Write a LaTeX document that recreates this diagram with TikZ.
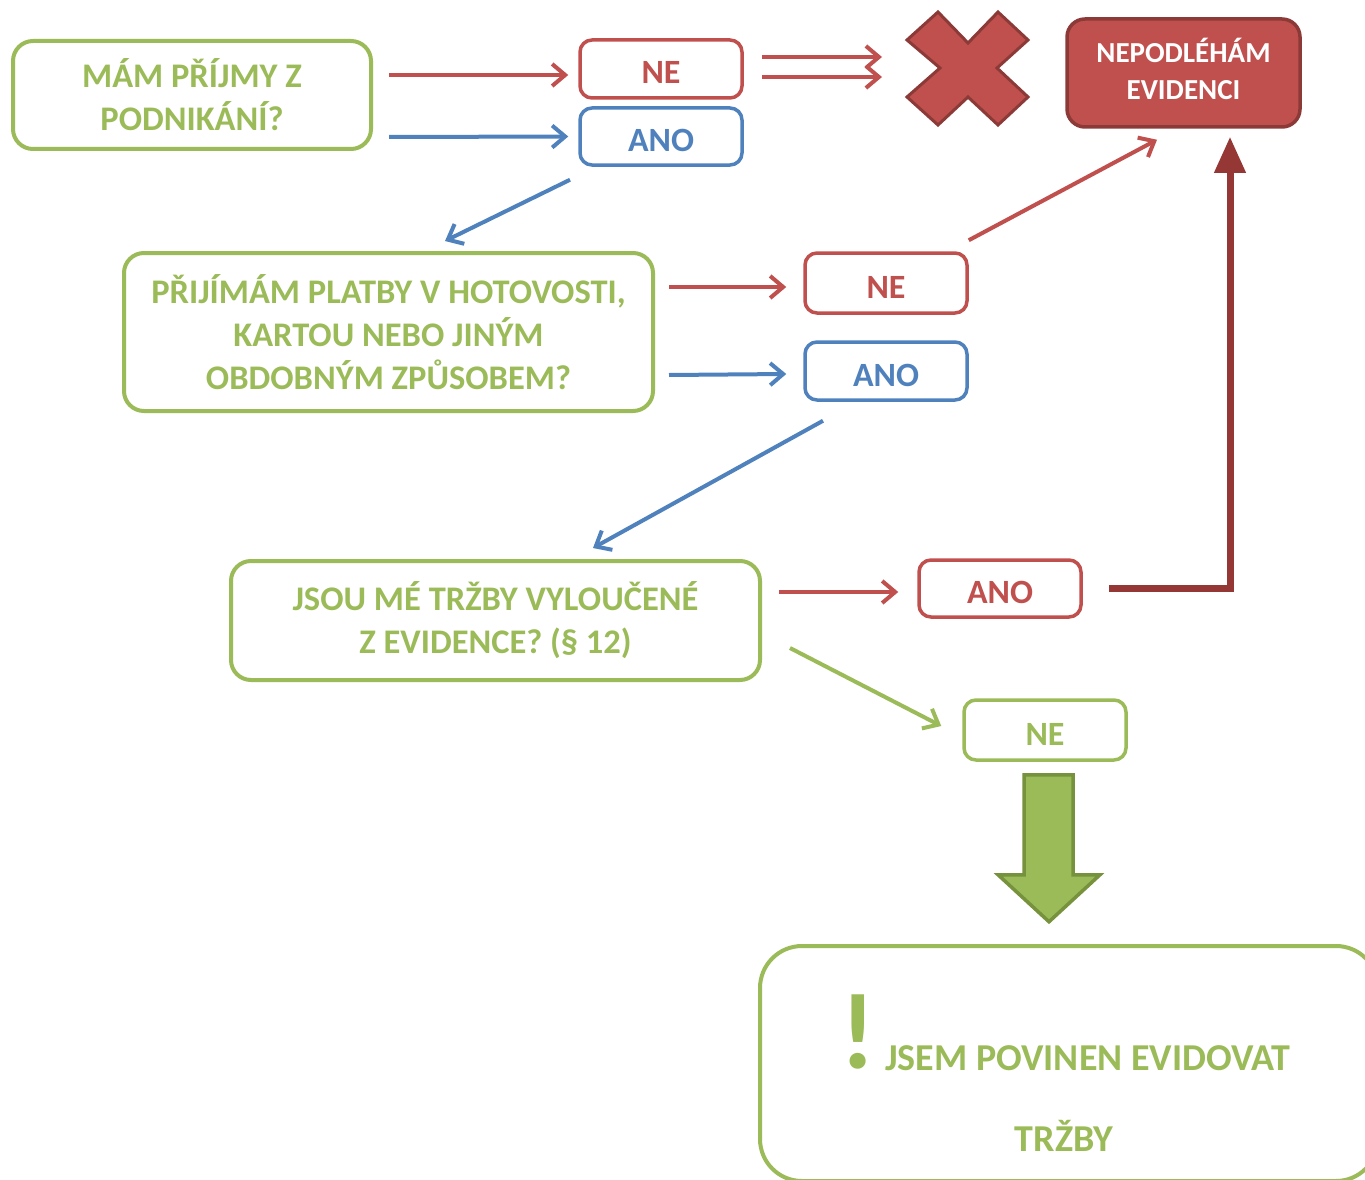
\documentclass[tikz,border=0pt]{standalone}
\usepackage{fontspec}
\setmainfont{Carlito}
\usetikzlibrary{arrows.meta}
\definecolor{cred}{HTML}{C0504D}
\definecolor{cdred}{HTML}{953735}
\definecolor{cxred}{HTML}{8C3A38}
\definecolor{cblue}{HTML}{4F81BD}
\definecolor{cgreen}{HTML}{9BBB59}
\definecolor{cdgreen}{HTML}{76923C}
\tikzset{
  qbox/.style={draw=cgreen, line width=4, rounded corners=20, text=cgreen, align=center,
    font=\fontsize{34.5}{43}\selectfont\bfseries, inner sep=0},
  sbox/.style={line width=3.5, rounded corners=12, minimum width=162, minimum height=58,
    font=\fontsize{34}{38}\selectfont\bfseries, inner sep=0, text height=30, text depth=0},
  redbox/.style={sbox, draw=cred, text=cred},
  bluebox/.style={sbox, draw=cblue, text=cblue},
  greenbox/.style={sbox, draw=cgreen, text=cgreen},
  arr/.style={line width=4, -{Straight Barb[length=13,width=22,line width=4]}},
  redarr/.style={arr, draw=cred},
  bluearr/.style={arr, draw=cblue},
  greenarr/.style={arr, draw=cgreen},
  restext/.style={text=cgreen, font=\fontsize{38}{44}\selectfont\bfseries, inner sep=0},
}
\begin{document}
\begin{tikzpicture}[x=1pt,y=-1pt]
\useasboundingbox (0,0) rectangle (1365,1180);
\clip (0,0) rectangle (1365,1180);

% nodes
\node[qbox, minimum width=358, minimum height=108] (q1) at (192,95) {MÁM PŘÍJMY Z\\PODNIKÁNÍ?};
\node[redbox] (ne1) at (661,69) {NE};
\node[bluebox, minimum height=57] (ano1) at (661,136.5) {ANO};
\coordinate (xmark) at (967,68);
\node[draw=cxred, fill=cred, line width=3.5, rounded corners=18, minimum width=233, minimum height=108,
  inner sep=0] (nep) at (1183.5,73) {};
\node[text=white, align=center, font=\fontsize{29}{37}\selectfont\bfseries, inner sep=0] (nept) at (1183.5,69) {NEPODLÉHÁM\\EVIDENCI};
\node[qbox, minimum width=529, minimum height=158] (q2) at (388.5,332) {PŘIJÍMÁM PLATBY V HOTOVOSTI,\\KARTOU NEBO JINÝM\\OBDOBNÝM ZPŮSOBEM?};
\node[redbox, minimum height=60] (ne2) at (886,283) {NE};
\node[bluebox] (ano2) at (886,371) {ANO};
\node[qbox, minimum width=529, minimum height=119] (q3) at (495.5,620.5) {JSOU MÉ TRŽBY VYLOUČENÉ\\Z EVIDENCE? (§ 12)};
\node[redbox, minimum height=57] (ano3) at (1000,588.5) {ANO};
\node[greenbox, minimum height=60] (ne3) at (1045,730) {NE};
\node[draw=cgreen, line width=4, rounded corners=42, minimum width=618, minimum height=235, inner sep=0] (res) at (1069,1063.5) {};
\node[anchor=base, text=cgreen, font=\fontsize{108}{108}\selectfont\bfseries, inner sep=0] (excl) at (858,1068) {!};
\node[anchor=base west, restext] (t1) at (885,1070) {JSEM POVINEN EVIDOVAT};
\node[anchor=base, restext] (t2) at (1064,1151) {TRŽBY};

% cross
\draw[fill=cred, draw=cxred, line width=3, line join=miter]
  (907,40) -- (938,12) -- (968,43) -- (998,12) -- (1028,40) -- (997,68) -- (1028,97)
  -- (998,125) -- (968,97) -- (938,125) -- (907,97) -- (940,68) -- cycle;

% connectors
\draw[redarr] ([shift={(16,-20)}]q1.east) -- ([shift={(-10,6)}]ne1.west);
\draw[bluearr] ([shift={(16,42)}]q1.east) -- ([shift={(-10,0)}]ano1.west);
\draw[redarr] ([shift={(18,-12)}]ne1.east) -- ([shift={(-85,-11)}]xmark);
\draw[redarr] ([shift={(18,8)}]ne1.east) -- ([shift={(-85,9)}]xmark);
\draw[bluearr] ([shift={(-91,13)}]ano1.south) -- ([shift={(56.5,-10)}]q2.north);
\draw[redarr] ([shift={(14,-45)}]q2.east) -- ([shift={(-17,4)}]ne2.west);
\draw[bluearr] ([shift={(14,43)}]q2.east) -- ([shift={(-17,3)}]ano2.west);
\draw[redarr] ([shift={(0,-11)}]ne2.north east) -- ([shift={(-26.5,11)}]nep.south);
\draw[bluearr] ([shift={(-63,19)}]ano2.south) -- ([shift={(97.5,-11)}]q3.north);
\draw[redarr] ([shift={(17,-28.5)}]q3.east) -- ([shift={(-19,3.5)}]ano3.west);
\draw[draw=cdred, line width=7, line join=miter, -{Triangle[length=36,width=30]}]
  ([shift={(26,0)}]ano3.east) -| ([shift={(46.5,8)}]nep.south);
\draw[greenarr] ([shift={(28,27.5)}]q3.east) -- ([shift={(-21,-4)}]ne3.west);

% block arrow
\draw[fill=cgreen, draw=cdgreen, line width=3.5, line join=miter]
  ([shift={(-21,13)}]ne3.south) -- ([shift={(28,13)}]ne3.south) -- ([shift={(28,113)}]ne3.south)
  -- ([shift={(55,113)}]ne3.south) -- ([shift={(4,160)}]ne3.south) -- ([shift={(-47,113)}]ne3.south)
  -- ([shift={(-21,113)}]ne3.south) -- cycle;
\end{tikzpicture}
\end{document}
